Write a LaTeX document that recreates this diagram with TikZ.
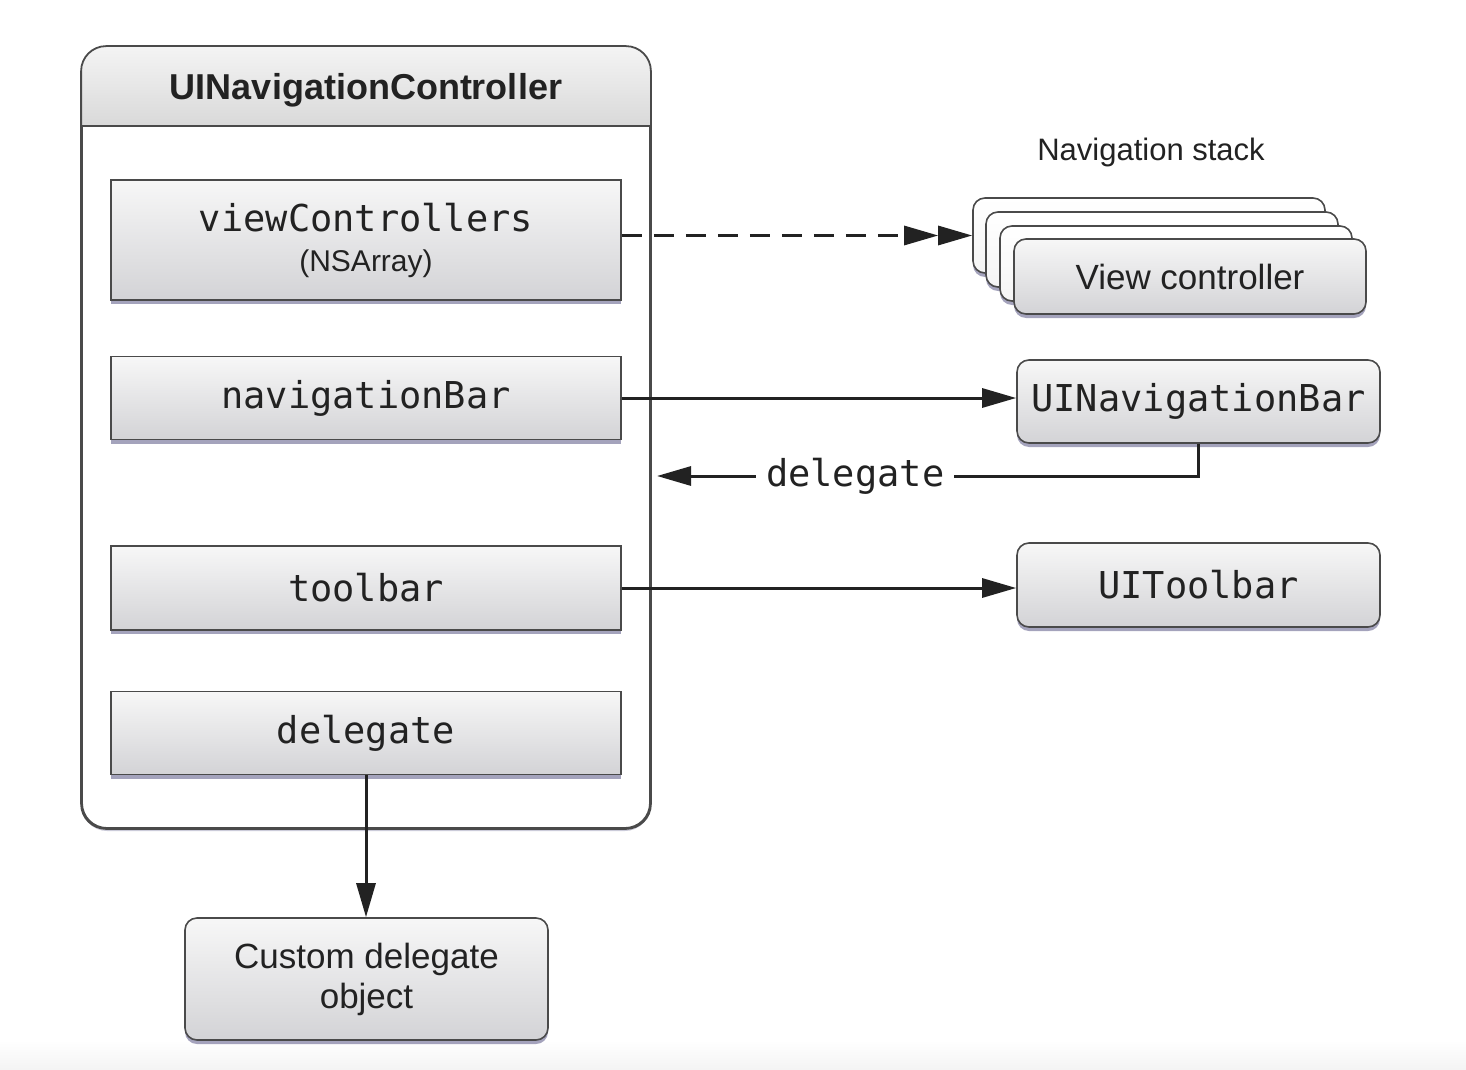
\documentclass[tikz,border=0pt]{standalone}
\usepackage{fontspec}
\setmainfont{Liberation Sans}
\newfontfamily\mono{DejaVu Sans Mono}
\usetikzlibrary{arrows.meta,shadows,calc}

\definecolor{edge}{HTML}{4A4A4A}
\definecolor{ink}{HTML}{222222}
\definecolor{boxtop}{HTML}{F7F7F7}
\definecolor{boxbot}{HTML}{D3D3D6}
\definecolor{shadowc}{HTML}{7E7CA0}
\definecolor{headtop}{HTML}{F4F4F4}
\definecolor{headbot}{HTML}{D9D9D9}

\tikzset{
  field/.style={draw=edge, line width=1.6pt, top color=boxtop, bottom color=boxbot,
    minimum width=510pt, inner sep=0pt, text=ink, align=center,
    drop shadow={shadow xshift=0pt, shadow yshift=-4pt, fill=shadowc, opacity=0.7}},
  obj/.style={field, rounded corners=12pt, minimum width=363pt},
  card/.style={obj, minimum width=352pt, minimum height=75pt},
  conn/.style={line width=3pt, draw=ink, -{Triangle[length=34pt,width=19pt]}},
  monotxt/.style={font=\mono\fontsize{37}{42}\selectfont},
  sanstxt/.style={font=\fontsize{35}{40}\selectfont},
}

\begin{document}
\begin{tikzpicture}[x=1pt,y=-1pt]
\useasboundingbox (0,0) rectangle (1466,1070);
\shade[top color=white, bottom color=gray!9] (0,1040) rectangle (1466,1070);

% container
\node[draw=edge, line width=1.8pt, fill=white, rounded corners=25pt,
      minimum width=568pt, minimum height=781pt, inner sep=0pt,
      drop shadow={shadow xshift=0pt, shadow yshift=-3pt, fill=shadowc, opacity=0.4}]
      (nc) at (366,437.5) {};
\begin{scope}
  \clip[rounded corners=25pt] (nc.north west) rectangle (nc.south east);
  \shade[top color=headtop, bottom color=headbot] (nc.north west) rectangle ($(nc.north east)+(0,80)$);
\end{scope}
\draw[edge, line width=1.8pt] ($(nc.north west)+(0,80)$) -- ($(nc.north east)+(0,80)$);
\draw[edge, line width=1.8pt, rounded corners=25pt] (nc.north west) rectangle (nc.south east);
\node[font=\bfseries\fontsize{36}{40}\selectfont, text=ink] (title) at (366,90) {UINavigationController};

% fields
\node[field, minimum height=120pt, font=\fontsize{30}{40}\selectfont] (vc) at (366,240)
  {{\mono\fontsize{37}{40}\selectfont viewControllers}\\(NSArray)};
\node[field, minimum height=83pt, monotxt] (nb) at (366,398) {navigationBar};
\node[field, minimum height=84pt, monotxt] (tb) at (366,588) {toolbar};
\node[field, minimum height=83pt, monotxt] (dl) at (366,733) {delegate};

% navigation stack
\node[font=\fontsize{31}{36}\selectfont, text=ink] (stacklbl) at (1151,152) {Navigation stack};
\node[card, top color=white, bottom color=white!92!gray] (vc1) at (1149,235.5) {};
\node[card, top color=white, bottom color=white!92!gray] (vc2) at (1162,249.5) {};
\node[card, top color=white, bottom color=white!92!gray] (vc3) at (1176,263.5) {};
\node[card, sanstxt] (vc4) at (1190,276.5) {View controller};

\node[obj, minimum height=83pt, monotxt] (uinb) at (1198.5,401.5) {UINavigationBar};
\node[obj, minimum height=84pt, monotxt] (uitb) at (1198.5,585) {UIToolbar};
\node[obj, minimum height=122pt, sanstxt] (cdo) at (366.5,979) {Custom delegate\\object};

% connectors
\draw[line width=3pt, draw=ink, dash pattern=on 20pt off 12pt,
      -{Triangle[length=34pt,width=19pt]Triangle[length=34pt,width=19pt]}]
      (vc1.west -| vc.east) -- (vc1.west);
\draw[conn] (nb.east) -- (nb.east -| uinb.west);
\draw[conn] (tb.east) -- (tb.east -| uitb.west);
\draw[conn] (dl.south) -- (dl.south |- cdo.north);
\coordinate (dlgend) at (657,476);
\draw[conn] (uinb.south) |- (dlgend)
  node[pos=0.817, fill=white, monotxt, text=ink, inner xsep=10pt, inner ysep=2pt] (dlglbl) {delegate};
\end{tikzpicture}
\end{document}
